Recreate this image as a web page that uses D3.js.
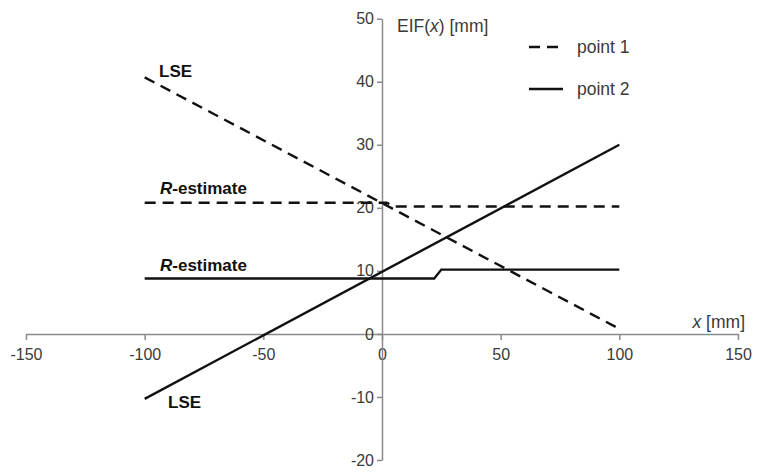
<!DOCTYPE html>
<html>
<head>
<meta charset="utf-8">
<script src="https://cdn.jsdelivr.net/npm/d3@7"></script>
<style>
  body { margin: 0; background: #fff; }
  text { font-family: "Liberation Sans", Arial, sans-serif; }
</style>
</head>
<body>
<div id="chart"></div>
<script>
// data
var xTicks = [-150, -100, -50, 0, 50, 100, 150];
var yTicks = [-20, -10, 0, 10, 20, 30, 40, 50];

var lse1X = [-100, 100];
var lse1Y = [40.7, 0.8];
var r1X = [-100, 2, 5, 100];
var r1Y = [20.8, 20.8, 20.2, 20.2];

var lse2X = [-100, 100];
var lse2Y = [-10.3, 30];
var r2X = [-100, 22, 25, 100];
var r2Y = [8.8, 8.8, 10.2, 10.2];

var seriesNames = ["point 1", "point 2"];

var width = 757, height = 472;

var svg = d3.select("#chart")
    .append("svg")
    .attr("width", width)
    .attr("height", height);

var x = d3.scaleLinear().domain([-150, 150]).range([26, 738]);
var y = d3.scaleLinear().domain([-20, 50]).range([460, 18.7]);

var axisCol = "#8a8a8a", textCol = "#3a3a3a";
var fmt = d => String(d);   // plain hyphen minus like the original

// x axis through y=0
var gx = svg.append("g")
    .attr("transform", `translate(0, ${y(0)})`)
    .call(d3.axisBottom(x).tickValues(xTicks).tickFormat(fmt).tickSize(6).tickPadding(9).tickSizeOuter(0));
gx.select(".domain").attr("stroke", axisCol).attr("stroke-width", 1.5);
gx.selectAll(".tick line").attr("stroke", axisCol).attr("stroke-width", 1.5);
gx.selectAll("text").attr("fill", textCol).style("font-size", "16px");

// y axis through x=0
var gy = svg.append("g")
    .attr("transform", `translate(${x(0)}, 0)`)
    .call(d3.axisLeft(y).tickValues(yTicks).tickFormat(fmt).tickSize(5).tickPadding(3).tickSizeOuter(0));
gy.select(".domain").attr("stroke", axisCol).attr("stroke-width", 1.5);
gy.selectAll(".tick line").attr("stroke", axisCol).attr("stroke-width", 1.5);
gy.selectAll("text").attr("fill", textCol).style("font-size", "16px");

// axis titles
var yt = svg.append("text")
    .attr("x", 397).attr("y", 32)
    .attr("fill", textCol).style("font-size", "17.5px");
yt.append("tspan").text("EIF(");
yt.append("tspan").style("font-style", "italic").text("x");
yt.append("tspan").text(") [mm]");

var xt = svg.append("text")
    .attr("x", 745).attr("y", 328)
    .attr("text-anchor", "end")
    .attr("fill", textCol).style("font-size", "17.5px");
xt.append("tspan").style("font-style", "italic").text("x");
xt.append("tspan").text(" [mm]");

// lines
var line = d3.line().x(d => x(d[0])).y(d => y(d[1]));
function drawLine(xs, ys, dashed) {
    svg.append("path")
        .datum(xs.map((v, i) => [v, ys[i]]))
        .attr("d", line)
        .attr("fill", "none")
        .attr("stroke", "#111")
        .attr("stroke-width", 2.4)
        .attr("stroke-dasharray", dashed ? "11,7" : null);
}
drawLine(lse1X, lse1Y, true);
drawLine(r1X, r1Y, true);
drawLine(lse2X, lse2Y, false);
drawLine(r2X, r2Y, false);

// line labels
function label(px, py, italicPart, rest) {
    var t = svg.append("text")
        .attr("x", px).attr("y", py)
        .attr("fill", "#111")
        .style("font-size", "17px")
        .style("font-weight", "bold");
    if (italicPart) t.append("tspan").style("font-style", "italic").text(italicPart);
    t.append("tspan").text(rest);
}
label(159, 77, null, "LSE");
label(160, 194, "R", "-estimate");
label(160, 271, "R", "-estimate");
label(168, 408, null, "LSE");

// legend
seriesNames.forEach(function(name, i) {
    var ly = 47 + i * 42;
    svg.append("line")
        .attr("x1", 529).attr("x2", 563)
        .attr("y1", ly).attr("y2", ly)
        .attr("stroke", "#111")
        .attr("stroke-width", 2.4)
        .attr("stroke-dasharray", i === 0 ? "11,7" : null);
    svg.append("text")
        .attr("x", 577).attr("y", ly + 6)
        .attr("fill", textCol)
        .style("font-size", "17.5px")
        .text(name);
});
</script>
</body>
</html>
